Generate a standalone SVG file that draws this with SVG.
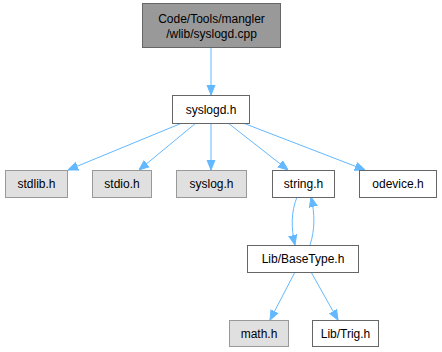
<svg xmlns="http://www.w3.org/2000/svg" width="442" height="352" viewBox="0 0 442 352">
<style>
  .lbl { font-family: "Liberation Sans", Arial, sans-serif; font-size: 12px; fill: #000; text-anchor: middle; }
  .main { fill: #999999; stroke: #666666; stroke-width: 1; }
  .ext  { fill: #e0e0e0; stroke: #999999; stroke-width: 1; }
  .inc  { fill: #ffffff; stroke: #666666; stroke-width: 1; }
  .edge { fill: none; stroke: #63b8ff; stroke-width: 1; }
</style>
<defs>
  <marker id="arr" viewBox="0 0 10 10" refX="10" refY="5" markerWidth="10" markerHeight="10" markerUnits="userSpaceOnUse" orient="auto">
    <path d="M0,1 L10,5 L0,9 Z" fill="#63b8ff" stroke="#63b8ff"/>
  </marker>
</defs>
<rect width="442" height="352" fill="#ffffff"/>

<g id="edges">
  <path class="edge" marker-end="url(#arr)" d="M211,47 L211,95"/>
  <path class="edge" marker-end="url(#arr)" d="M182,123 L68,170"/>
  <path class="edge" marker-end="url(#arr)" d="M196,123 L139,170"/>
  <path class="edge" marker-end="url(#arr)" d="M211,123 L211,170"/>
  <path class="edge" marker-end="url(#arr)" d="M228,123 L288,170"/>
  <path class="edge" marker-end="url(#arr)" d="M243,123 L365,170"/>
  <path class="edge" marker-end="url(#arr)" d="M297,197 C291,212 291,228 295,245"/>
  <path class="edge" marker-end="url(#arr)" d="M310,245 C315,230 315,214 311,197"/>
  <path class="edge" marker-end="url(#arr)" d="M295,272 L270,320"/>
  <path class="edge" marker-end="url(#arr)" d="M311,272 L338,320"/>
</g>

<g id="node-syslogd-cpp">
  <rect class="main" x="142.5" y="3.5" width="138" height="44"/>
  <text class="lbl" x="211.5" y="23">Code/Tools/mangler</text>
  <text class="lbl" x="211.5" y="38">/wlib/syslogd.cpp</text>
</g>
<g id="node-syslogd-h">
  <rect class="inc" x="172.5" y="95.5" width="77" height="28"/>
  <text class="lbl" x="211" y="114">syslogd.h</text>
</g>
<g id="node-stdlib">
  <rect class="ext" x="5.5" y="170.5" width="62" height="27"/>
  <text class="lbl" x="36.5" y="188">stdlib.h</text>
</g>
<g id="node-stdio">
  <rect class="ext" x="92.5" y="170.5" width="59" height="27"/>
  <text class="lbl" x="122" y="188">stdio.h</text>
</g>
<g id="node-syslog">
  <rect class="ext" x="176.5" y="170.5" width="70" height="27"/>
  <text class="lbl" x="211.5" y="188">syslog.h</text>
</g>
<g id="node-string">
  <rect class="inc" x="272.5" y="170.5" width="62" height="27"/>
  <text class="lbl" x="303.5" y="188">string.h</text>
</g>
<g id="node-odevice">
  <rect class="inc" x="359.5" y="170.5" width="77" height="27"/>
  <text class="lbl" x="398" y="188">odevice.h</text>
</g>
<g id="node-basetype">
  <rect class="inc" x="247.5" y="245.5" width="111" height="27"/>
  <text class="lbl" x="303" y="263">Lib/BaseType.h</text>
</g>
<g id="node-math">
  <rect class="ext" x="229.5" y="320.5" width="59" height="26"/>
  <text class="lbl" x="259" y="338">math.h</text>
</g>
<g id="node-trig">
  <rect class="inc" x="312.5" y="320.5" width="66" height="26"/>
  <text class="lbl" x="345.5" y="338">Lib/Trig.h</text>
</g>
</svg>
